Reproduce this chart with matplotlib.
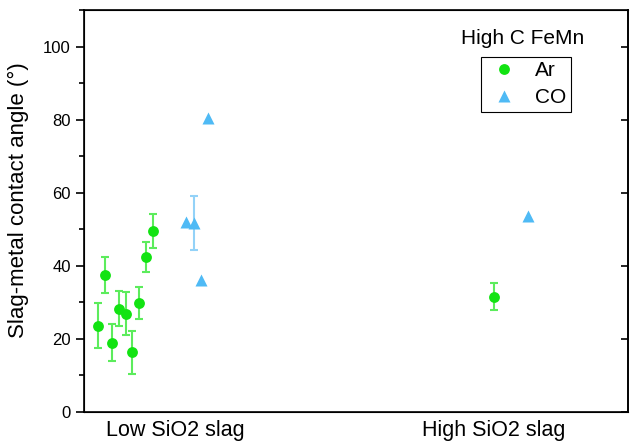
import numpy as np
import matplotlib
matplotlib.use("Agg")
import matplotlib.pyplot as plt
from matplotlib.ticker import MultipleLocator

plt.rcParams['font.family'] = ['Liberation Sans', 'DejaVu Sans']

# category positions and labels
cat_pos = [1, 2]
cat_labels = ["Low SiO2 slag", "High SiO2 slag"]

# Ar series
ar_x = [0.760, 0.781, 0.803, 0.824, 0.846, 0.867, 0.888, 0.910, 0.931, 1.999]
ar_y = [23.6, 37.5, 19.0, 28.3, 26.9, 16.3, 29.8, 42.4, 49.6, 31.5]
ar_err = [6.1, 5.0, 5.0, 4.7, 5.8, 6.0, 4.3, 4.1, 4.7, 3.7]

# CO series (only one point has a visible error bar)
co_x = [1.034, 1.060, 1.081, 1.103, 2.107]
co_y = [52.1, 51.7, 36.2, 80.4, 53.7]
co_err = [0, 7.5, 0, 0, 0]

green = '#12e312'
green_err = '#5cec5c'
blue = '#4fbaf5'
blue_err = '#93d2f8'

fig = plt.figure(figsize=(6.3, 4.42), dpi=100)
ax = fig.add_axes([84 / 630, 30 / 442, 544 / 630, 402 / 442])

ex = [x for x, e in zip(ar_x, ar_err) if e > 0]
ey = [y for y, e in zip(ar_y, ar_err) if e > 0]
ee = [e for e in ar_err if e > 0]
ax.errorbar(ex, ey, yerr=ee, fmt='none', ecolor=green_err, elinewidth=1.5,
            capsize=3, capthick=1.5, zorder=2)
ex = [x for x, e in zip(co_x, co_err) if e > 0]
ey = [y for y, e in zip(co_y, co_err) if e > 0]
ee = [e for e in co_err if e > 0]
ax.errorbar(ex, ey, yerr=ee, fmt='none', ecolor=blue_err, elinewidth=1.5,
            capsize=3, capthick=1.5, zorder=2)

ax.plot(ar_x, ar_y, 'o', color=green, markersize=7.8, mec='none', label='Ar', zorder=3)
ax.plot(co_x, co_y, '^', color=blue, markersize=9, mec='none', label='CO', zorder=3)

ax.set_xlim(0.715, 2.42)
ax.set_ylim(0, 110)
ax.set_xticks(cat_pos)
ax.set_xticklabels(cat_labels, fontsize=15.5)
ax.tick_params(axis='x', length=0, pad=6)
ax.yaxis.set_major_locator(MultipleLocator(20))
ax.yaxis.set_minor_locator(MultipleLocator(10))
ax.tick_params(axis='y', which='major', direction='out', length=6, width=1.2,
               labelsize=12, right=False)
ax.tick_params(axis='y', which='minor', direction='out', length=3.5, width=1.2, right=False)
for s in ax.spines.values():
    s.set_linewidth(1.2)

# inward ticks on the right side
ax2 = ax.twinx()
ax2.set_ylim(0, 110)
ax2.yaxis.set_major_locator(MultipleLocator(20))
ax2.tick_params(axis='y', direction='in', length=5, width=1.2, labelright=False)
ax2.spines['right'].set_linewidth(1.2)

ax.set_ylabel("Slag-metal contact angle (°)", fontsize=16)
ax.yaxis.set_label_coords(-0.102, 0.527)

leg = ax.legend(loc='upper left', bbox_to_anchor=(481 / 630, 1 - 57 / 442),
                bbox_transform=fig.transFigure, fontsize=15, frameon=True,
                fancybox=False, edgecolor='black', framealpha=1,
                handletextpad=0.6, borderpad=0.2, labelspacing=0.4,
                handlelength=1.8, borderaxespad=0)
leg.get_frame().set_linewidth(0.8)
fig.text(523 / 630, 1 - 38 / 442, "High C FeMn", fontsize=15, ha='center', va='center')

fig.savefig("out.png", dpi=100)
